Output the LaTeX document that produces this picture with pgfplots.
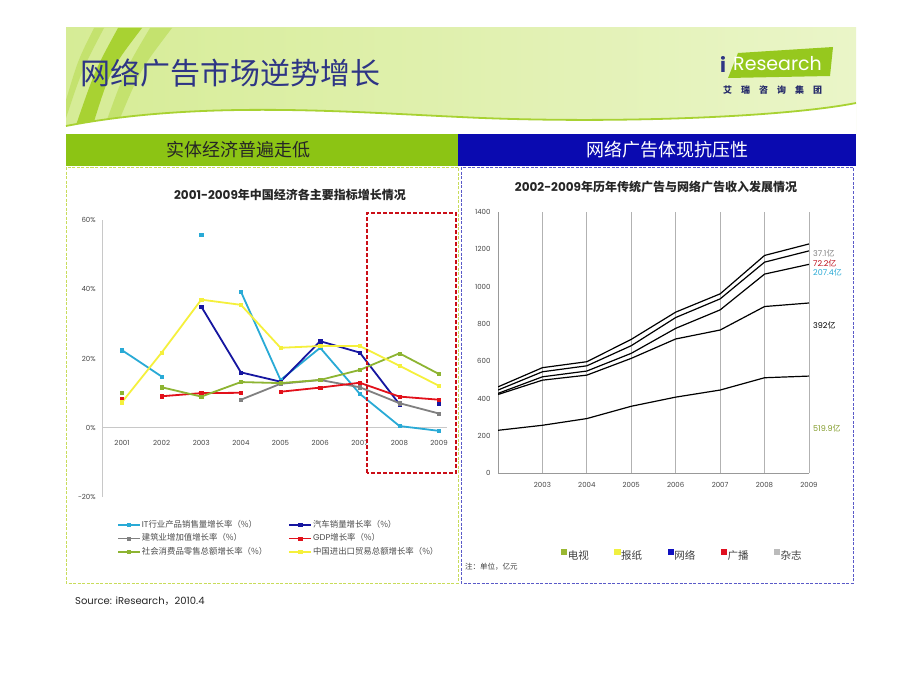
\documentclass[border=0pt]{standalone}
\usepackage{fontspec}
\setmainfont{Poppins}
\newfontfamily\cjk{Noto Sans CJK SC}
\usepackage{pgfplots}
\pgfplotsset{compat=1.18}

\definecolor{itc}{RGB}{41,170,214}
\definecolor{autoc}{RGB}{22,22,160}
\definecolor{bldc}{RGB}{128,128,128}
\definecolor{gdpc}{RGB}{226,16,26}
\definecolor{retc}{RGB}{141,180,50}
\definecolor{trdc}{RGB}{245,240,60}
\definecolor{barg}{RGB}{140,196,20}
\definecolor{barb}{RGB}{10,10,176}
\definecolor{titc}{RGB}{46,53,133}
\definecolor{hdrL}{RGB}{214,236,150}
\definecolor{hdrR}{RGB}{234,245,200}
\definecolor{grassA}{RGB}{168,210,50}
\definecolor{grassB}{RGB}{196,226,110}
\definecolor{logog}{RGB}{150,200,30}
\definecolor{axgray}{RGB}{200,200,200}
\definecolor{tickc}{RGB}{70,70,70}
\definecolor{panelg}{RGB}{200,220,90}
\definecolor{panelb}{RGB}{90,90,200}
\definecolor{tvc}{RGB}{154,184,50}
\definecolor{npc}{RGB}{240,240,64}
\definecolor{netc}{RGB}{16,16,192}
\definecolor{radc}{RGB}{224,16,32}
\definecolor{magc}{RGB}{187,187,187}

\begin{document}
\begin{tikzpicture}

% slide background, header, bars, frames (1pt = 1px of the reference, y downwards)
\begin{scope}[x=1pt,y=-1pt]
  \fill[white] (0,0) rectangle (920,690);
  \shade[left color=hdrL, right color=hdrR] (66,28) rectangle (856,133);
  % grass strokes
  \fill[grassB] (150,28) -- (172,28) .. controls (140,70) .. (116,128) -- (104,128) .. controls (125,70) .. cycle;
  \fill[grassA] (118,28) -- (142,28) .. controls (110,70) .. (92,128) -- (75,128) .. controls (95,70) .. cycle;
  \fill[grassB] (94,28) -- (104,28) .. controls (82,70) .. (66,118) -- (66,100) .. controls (78,60) .. cycle;
  % swoosh
  \fill[white] (66,126) .. controls (200,100) and (350,112) .. (460,117)
     .. controls (600,124) and (780,118) .. (856,103) -- (856,134) -- (66,134) -- cycle;
  \draw[grassA, line width=1.8pt] (66,126) .. controls (200,100) and (350,112) .. (460,117)
     .. controls (600,124) and (780,118) .. (856,103);
  % title
  \node[anchor=west, inner sep=0pt, font=\cjk\fontsize{30}{30}\selectfont, text=titc] at (80,73) {网络广告市场逆势增长};
  % logo
  \fill[logog] (738,53) -- (833,47) -- (830,76) -- (728,78) -- cycle;
  \node[anchor=west, inner sep=0pt, font=\bfseries\fontsize{20}{20}\selectfont, text=titc] at (720,64) {i};
  \node[anchor=west, inner sep=0pt, font=\fontsize{19}{19}\selectfont, text=white] at (733,64) {Research};
  \node[anchor=west, inner sep=0pt, font=\cjk\bfseries\fontsize{9}{9}\selectfont, text=titc!80!black] at (723,90)
    {艾\hspace{9pt}瑞\hspace{9pt}咨\hspace{9pt}询\hspace{9pt}集\hspace{9pt}团};
  % section bars
  \fill[barg] (66,134) rectangle (458,166);
  \fill[barb] (458,134) rectangle (856,166);
  \node[font=\cjk\fontsize{18}{18}\selectfont, text=black!85] at (238,150) {实体经济普遍走低};
  \node[font=\cjk\fontsize{18}{18}\selectfont, text=white] at (667,150) {网络广告体现抗压性};
  % panels
  \draw[panelg, line width=0.9pt, dash pattern=on 3pt off 1.5pt] (66,167) rectangle (458,583);
  \draw[panelb, line width=0.9pt, dash pattern=on 3pt off 1.5pt] (461,167) rectangle (853,583);
  % chart titles
  \node[font=\cjk\bfseries\fontsize{12}{12}\selectfont, text=black!85] at (290,195) {{\rmfamily 2001-2009}年中国经济各主要指标增长情况};
  \node[font=\cjk\bfseries\fontsize{12}{12}\selectfont, text=black!85] at (656,187) {{\rmfamily 2002-2009}年历年传统广告与网络广告收入发展情况};
  % end labels of the stacked chart
  \node[anchor=west, inner sep=0pt, font=\fontsize{8}{8}\selectfont, text=gray] at (813,253) {37.1{\cjk 亿}};
  \node[anchor=west, inner sep=0pt, font=\fontsize{8}{8}\selectfont, text=radc!85!black] at (813,263) {72.2{\cjk 亿}};
  \node[anchor=west, inner sep=0pt, font=\fontsize{8}{8}\selectfont, text=itc] at (813,272) {207.4{\cjk 亿}};
  \node[anchor=west, inner sep=0pt, font=\fontsize{8}{8}\selectfont, text=black] at (813,325) {392{\cjk 亿}};
  \node[anchor=west, inner sep=0pt, font=\fontsize{8}{8}\selectfont, text=tvc!85!black] at (813,428) {519.9{\cjk 亿}};
  % notes
  \node[anchor=west, inner sep=0pt, font=\cjk\fontsize{7.5}{8}\selectfont, text=black!75] at (465,567) {注：单位，亿元};
  \node[anchor=west, inner sep=0pt, font=\fontsize{10}{10}\selectfont, text=black!85] at (75,601) {Source: iResearch{\cjk ，}2010.4};
\end{scope}

% left chart: growth rates, %
\begin{axis}[
  at={(102.2pt,-497pt)}, anchor=south west,
  scale only axis, width=344.8pt, height=277pt,
  xmin=2000.5, xmax=2009.2, ymin=-20, ymax=60,
  axis y line=left, axis x line=middle,
  axis line style={-, draw=axgray, line width=0.8pt},
  hide obscured x ticks=false, hide obscured y ticks=false,
  xtick={2001,...,2009}, ytick={-20,0,20,40,60},
  major tick length=0pt,
  /pgf/number format/1000 sep={},
  /pgf/number format/assume math mode=true,
  yticklabel={\pgfmathprintnumber{\tick}\%},
  ticklabel style={font=\fontsize{7}{8}\selectfont, text=tickc},
  xticklabel style={yshift=-9pt},
  yticklabel style={xshift=-3pt},
  clip=false,
  unbounded coords=jump,
  every axis plot/.append style={line width=1.8pt, mark=square*, mark size=1.6pt, mark options={line width=0.4pt}},
  legend columns=2,
  legend cell align=left,
  legend image code/.code={\draw[mark repeat=2,mark phase=2] plot coordinates {(0pt,0pt)(11pt,0pt)(22pt,0pt)};},
  legend style={at={(0.034,-0.075)}, anchor=north west, draw=none, fill=none,
    font=\fontsize{8.4}{9}\selectfont, text=black!70,
    nodes={inner sep=1pt, text height=6.5pt, text depth=1.5pt},
    row sep=3.5pt,
    /tikz/every even column/.append style={column sep=20pt}},
]
% IT
\addplot[color=itc] coordinates {
  (2001,22.4) (2002,14.8) (2002.5,nan) (2003,55.7) (2003.5,nan)
  (2004,39.3) (2005,13.8) (2006,23.1) (2007,9.8) (2008,0.5) (2009,-0.9)
};
\addlegendentry{IT{\cjk 行业产品销售量增长率（\%）}}
% cars
\addplot[color=autoc] coordinates {
  (2003,35.0) (2004,16.0) (2005,13.3) (2006,25.0) (2007,21.7) (2008,6.8) (2008.5,nan) (2009,7.0)
};
\addlegendentry{\cjk 汽车销量增长率（\%）}
% construction
\addplot[color=bldc] coordinates {
  (2004,8.1) (2005,12.7) (2006,13.8) (2007,11.7) (2008,7.1) (2009,4.1)
};
\addlegendentry{\cjk 建筑业增加值增长率（\%）}
% GDP
\addplot[color=gdpc] coordinates {
  (2001,8.4) (2001.5,nan) (2002,9.1) (2003,10.0) (2004,10.1) (2004.5,nan)
  (2005,10.4) (2006,11.6) (2007,13.0) (2008,9.0) (2009,8.1)
};
\addlegendentry{GDP{\cjk 增长率（\%）}}
% retail
\addplot[color=retc] coordinates {
  (2001,10.2) (2001.5,nan) (2002,11.7) (2003,9.0) (2004,13.2) (2005,12.9)
  (2006,13.8) (2007,16.7) (2008,21.5) (2009,15.5)
};
\addlegendentry{\cjk 社会消费品零售总额增长率（\%）}
% trade
\addplot[color=trdc] coordinates {
  (2001,7.4) (2002,21.7) (2003,37.0) (2004,35.5) (2005,23.1) (2006,23.6)
  (2007,23.6) (2008,17.9) (2009,12.1)
};
\addlegendentry{\cjk 中国进出口贸易总额增长率（\%）}
\draw[color=gdpc!90!black, line width=1.8pt, dash pattern=on 4pt off 2pt]
  (axis cs:2007.19,-13) rectangle (axis cs:2009.43,62.05);
\end{axis}

% right chart: ad revenue, stacked, 100 million yuan
\begin{axis}[
  at={(498pt,-473pt)}, anchor=south west,
  scale only axis, width=311pt, height=261pt,
  xmin=2002, xmax=2009, ymin=0, ymax=1400,
  axis x line=bottom, axis y line=left,
  axis line style={-, draw=gray!80, line width=0.8pt},
  xtick={2003,...,2009}, ytick={0,200,...,1400},
  xmajorgrids, major grid style={draw=gray!60, line width=0.8pt},
  major tick length=0pt,
  /pgf/number format/1000 sep={},
  /pgf/number format/assume math mode=true,
  ticklabel style={font=\fontsize{7}{8}\selectfont, text=tickc},
  xticklabel style={yshift=-6pt},
  yticklabel style={xshift=-4pt},
  stack plots=y,
  every axis plot/.append style={black, line width=1.2pt, no marks},
  legend columns=5,
  legend style={at={(0.193,-0.314)}, anchor=west, draw=none, fill=none,
    font=\cjk\fontsize{10.5}{11}\selectfont, text=black!75,
    nodes={inner sep=0.5pt},
    /tikz/every even column/.append style={column sep=25pt}},
]
\addplot[legend image code/.code={\fill[tvc] (0pt,1pt) rectangle (5pt,6pt);}] coordinates {
  (2002,229) (2003,256) (2004,292) (2005,358) (2006,407) (2007,445) (2008,511) (2009,519.9)
};
\addlegendentry{电视}
\addplot[legend image code/.code={\fill[npc] (0pt,1pt) rectangle (5pt,6pt);}] coordinates {
  (2002,192) (2003,242) (2004,233) (2005,257) (2006,312) (2007,322) (2008,382) (2009,392)
};
\addlegendentry{报纸}
\addplot[legend image code/.code={\fill[netc] (0pt,1pt) rectangle (5pt,6pt);}] coordinates {
  (2002,6) (2003,18) (2004,22) (2005,27) (2006,57) (2007,108) (2008,174) (2009,207.4)
};
\addlegendentry{网络}
\addplot[legend image code/.code={\fill[radc] (0pt,1pt) rectangle (5pt,6pt);}] coordinates {
  (2002,18) (2003,27) (2004,28) (2005,41) (2006,58) (2007,59) (2008,64) (2009,72.2)
};
\addlegendentry{广播}
\addplot[legend image code/.code={\fill[magc] (0pt,1pt) rectangle (5pt,6pt);}] coordinates {
  (2002,17) (2003,22) (2004,22) (2005,34) (2006,29) (2007,27) (2008,36) (2009,37.1)
};
\addlegendentry{杂志}
\end{axis}

\end{tikzpicture}
\end{document}
